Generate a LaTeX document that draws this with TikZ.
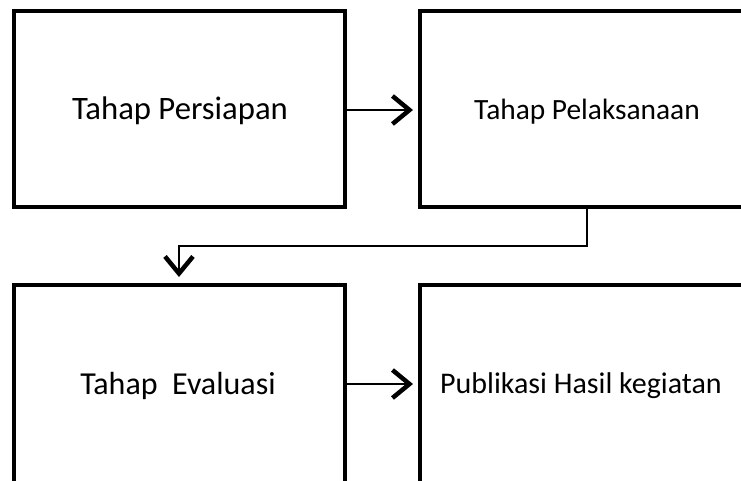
\documentclass[tikz,border=0pt]{standalone}
\usepackage{fontspec}
\setmainfont{Carlito}
\usetikzlibrary{arrows.meta}
\begin{document}
\begin{tikzpicture}[x=1pt,y=-1pt,
  box/.style={draw=black,line width=4pt,rectangle,inner sep=0pt,minimum width=331pt,minimum height=196pt},
  wbox/.style={draw=black,line width=4pt,rectangle,inner sep=0pt,minimum width=325pt,minimum height=196pt},
  lbl/.style={anchor=base,inner sep=0pt},
  conn/.style={draw=black,line width=1.5pt,-{Straight Barb[length=17pt,width=28pt,line width=4.5pt]}}]
\clip (0,0) rectangle (741,480);
\fill[white] (0,0) rectangle (741,480);
\node[box]  (tl) at (179.5,109) {};
\node[wbox] (tr) at (582.5,109) {};
\node[box,minimum height=198pt]  (bl) at (179.5,384) {};
\node[wbox,minimum height=198pt] (br) at (582.5,384) {};
\node[lbl,font=\fontsize{32.7}{38}\selectfont] (t1) at (180,119) {Tahap Persiapan};
\node[lbl,font=\fontsize{29.4}{35}\selectfont] (t2) at (587,119) {Tahap Pelaksanaan};
\node[lbl,font=\fontsize{32}{38}\selectfont] (t3) at (178,394) {Tahap\ \ Evaluasi};
\node[lbl,font=\fontsize{30}{36}\selectfont] (t4) at (581,393) {Publikasi Hasil kegiatan};
\draw[conn,shorten >=5pt] ([yshift=-1pt]tl.east) -- ([yshift=-1pt]tr.west);
\draw[conn,shorten >=5pt] (bl.east) -- (br.west);
\coordinate (c1) at ([xshift=169pt]tr.south west);
\coordinate (c2) at ([xshift=167pt]bl.north west);
\draw[conn,shorten >=6pt] (c1) -- ++(0,37) -| (c2);
\end{tikzpicture}
\end{document}
